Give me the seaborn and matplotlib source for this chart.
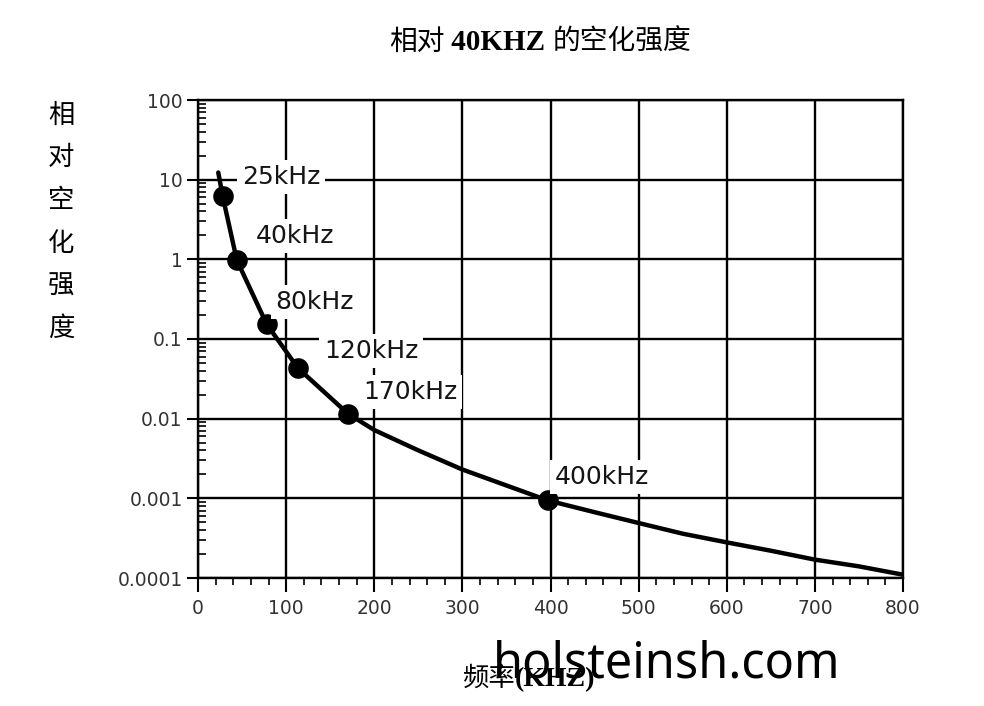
import numpy as np
import pandas as pd
import matplotlib
matplotlib.use("Agg")
import matplotlib.pyplot as plt
import seaborn as sns
from matplotlib.ticker import MultipleLocator, LogLocator, FixedLocator, FixedFormatter, NullFormatter

# curve (kHz, relative intensity)
curve_freq = [23, 28, 44, 78, 113.5, 170, 200, 250, 300, 350, 397, 450, 500, 550, 600, 650, 700, 750, 800]
curve_val = [12.3, 6.2, 0.98, 0.153, 0.043, 0.0116, 0.0072, 0.0040, 0.0023, 0.00145, 0.00094,
             0.00067, 0.00049, 0.00036, 0.00028, 0.00022, 0.00017, 0.00014, 0.00011]

# marked points
point_freq = [28, 44, 78, 113.5, 170, 397]
point_val = [6.2, 0.98, 0.153, 0.043, 0.0116, 0.00094]
point_labels = ["25kHz", "40kHz", "80kHz", "120kHz", "170kHz", "400kHz"]
# label offsets from each marker, in pixels
label_offsets = [(19, 19), (19, 24), (9, 22), (26, 17), (15, 22), (7, 23)]

y_ticks = [0.0001, 0.001, 0.01, 0.1, 1, 10, 100]
y_ticklabels = ["0.0001", "0.001", "0.01", "0.1", "1", "10", "100"]
x_ticks = [0, 100, 200, 300, 400, 500, 600, 700, 800]

sns.set_theme(style="white")
plt.rcParams["font.family"] = ["DejaVu Sans", "Noto Sans CJK SC"]

W, H = 984, 706
fig = plt.figure(figsize=(W / 100, H / 100), dpi=100)
ax = fig.add_axes([198 / W, 1 - 578 / H, 705 / W, 478 / H])

curve_df = pd.DataFrame({"freq": curve_freq, "val": curve_val})
pts_df = pd.DataFrame({"freq": point_freq, "val": point_val})

sns.lineplot(data=curve_df, x="freq", y="val", sort=False, estimator=None,
             color="black", linewidth=3.2, ax=ax, zorder=4)
sns.scatterplot(data=pts_df, x="freq", y="val", color="black", s=220,
                edgecolor="black", linewidth=0, ax=ax, zorder=5)

ax.set_yscale("log")
ax.set_xlim(0, 800)
ax.set_ylim(0.0001, 100)
ax.yaxis.set_major_locator(FixedLocator(y_ticks))
ax.yaxis.set_major_formatter(FixedFormatter(y_ticklabels))
ax.yaxis.set_minor_locator(LogLocator(base=10, subs=np.arange(2, 10)))
ax.yaxis.set_minor_formatter(NullFormatter())
ax.xaxis.set_major_locator(FixedLocator(x_ticks))
ax.xaxis.set_minor_locator(MultipleLocator(20))

ax.grid(True, which="major", color="black", linewidth=1.7)
for s in ax.spines.values():
    s.set_color("black")
    s.set_linewidth(1.7)

ax.tick_params(bottom=True, left=True, which="both")
ax.tick_params(axis="y", which="major", direction="out", length=8, width=1.5,
               color="black", labelsize=13.5, labelcolor="#333333", pad=3)
ax.tick_params(axis="y", which="minor", direction="in", length=6, width=1.2, color="black")
ax.tick_params(axis="x", which="major", direction="out", length=10, width=1.5,
               color="black", labelsize=13.5, labelcolor="#333333", pad=5)
ax.tick_params(axis="x", which="minor", direction="out", length=5, width=1.2, color="black")
ax.set_xlabel("")
ax.set_ylabel("")

for f, v, lab, off in zip(point_freq, point_val, point_labels, label_offsets):
    ax.annotate(lab, xy=(f, v), xytext=off, textcoords="offset pixels",
                ha="left", va="center", fontsize=18, color="#151515", zorder=6,
                bbox=dict(boxstyle="square,pad=0.2", fc="white", ec="none"))


def draw_pieces(x_px, y_px, pieces):
    renderer = fig.canvas.get_renderer()
    x = x_px
    for s, kw in pieces:
        t = fig.text(x / W, 1 - y_px / H, s, ha="left", va="baseline", color="black", **kw)
        x += t.get_window_extent(renderer).width


cjk = ["Noto Sans CJK SC"]
serif = ["Liberation Serif"]
draw_pieces(389, 50, [("相对", dict(family=cjk, fontsize=20)),
                      (" 40KHZ ", dict(family=serif, fontsize=21, fontweight="bold")),
                      ("的空化强度", dict(family=cjk, fontsize=20))])

fig.text(61 / W, 1 - 222 / H, "\n".join("相对空化强度"), family=cjk, fontsize=19,
         ha="center", va="center", linespacing=1.75, color="black")

draw_pieces(462, 686, [("频率", dict(family=cjk, fontsize=19)),
                       ("(KHZ)", dict(family=serif, fontsize=20, fontweight="bold"))])

fig.text(493 / W, 1 - 677 / H, "holsteinsh.com", family=["Noto Sans"], fontsize=35,
         ha="left", va="baseline", color="black", zorder=10)

fig.savefig("out.png", dpi=100, facecolor="white")
